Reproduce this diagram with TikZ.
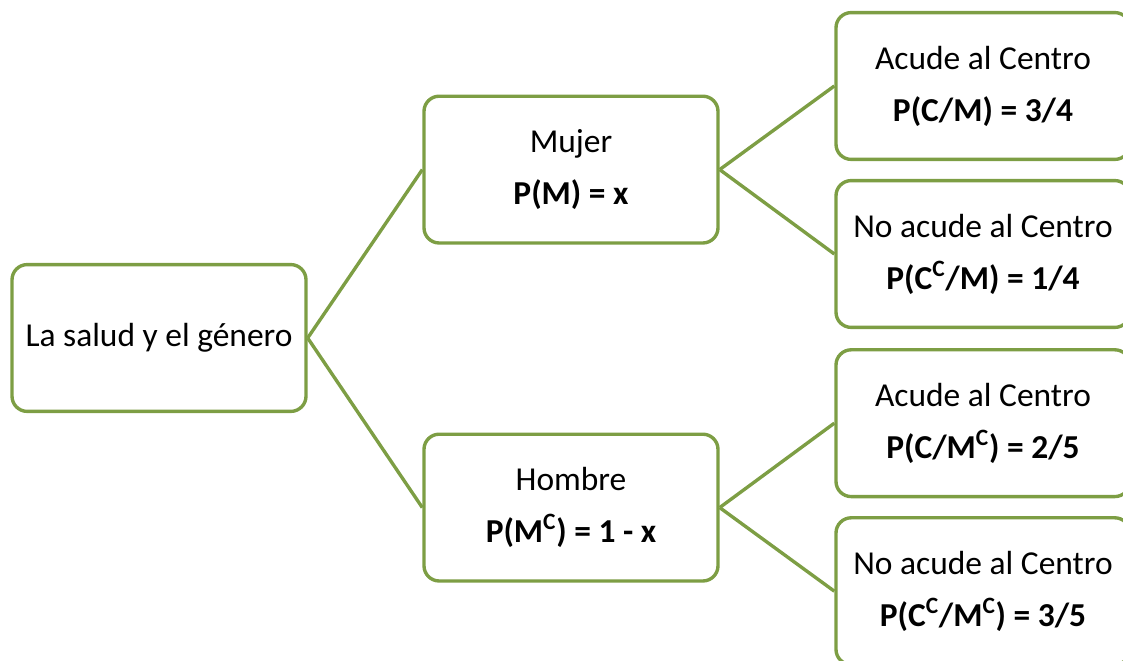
\documentclass[tikz,border=0pt]{standalone}
\usepackage{fontspec}
\setmainfont{Carlito}
\usepackage{tikz}
\usetikzlibrary{positioning}
\definecolor{leafgreen}{RGB}{125,158,68}

\begin{document}
\begin{tikzpicture}[
        box/.style={rectangle, rounded corners=0.38cm, draw=leafgreen, line width=2.4pt, fill=white, minimum width=7.35cm, minimum height=3.67cm, align=center, font=\fontsize{23.8}{37}\selectfont},
        branch/.style={draw=leafgreen, line width=2.4pt}
    ]
        \useasboundingbox (0,0) rectangle (28.075,-16.525);

        % Root
        \node[box] (root) at (3.975,-8.45) {La salud y el género};

        % Gender
        \node[box] (mujer) at (14.275,-4.24) {Mujer\\\textbf{P(M) = x}};
        \node[box] (hombre) at (14.275,-12.69) {Hombre\\\textbf{P(M\textsuperscript{C}) = 1 - x}};

        % Visits
        \node[box] (mc) at (24.575,-2.15) {Acude al Centro\\\textbf{P(C/M) = 3/4}};
        \node[box] (mnc) at (24.575,-6.35) {No acude al Centro\\\textbf{P(C\textsuperscript{C}/M) = 1/4}};
        \node[box] (hc) at (24.575,-10.58) {Acude al Centro\\\textbf{P(C/M\textsuperscript{C}) = 2/5}};
        \node[box] (hnc) at (24.575,-14.78) {No acude al Centro\\\textbf{P(C\textsuperscript{C}/M\textsuperscript{C}) = 3/5}};

        \draw[branch] (root.east) -- (mujer.west);
        \draw[branch] (root.east) -- (hombre.west);
        \draw[branch] (mujer.east) -- (mc.west);
        \draw[branch] (mujer.east) -- (mnc.west);
        \draw[branch] (hombre.east) -- (hc.west);
        \draw[branch] (hombre.east) -- (hnc.west);
    \end{tikzpicture}
\end{document}
